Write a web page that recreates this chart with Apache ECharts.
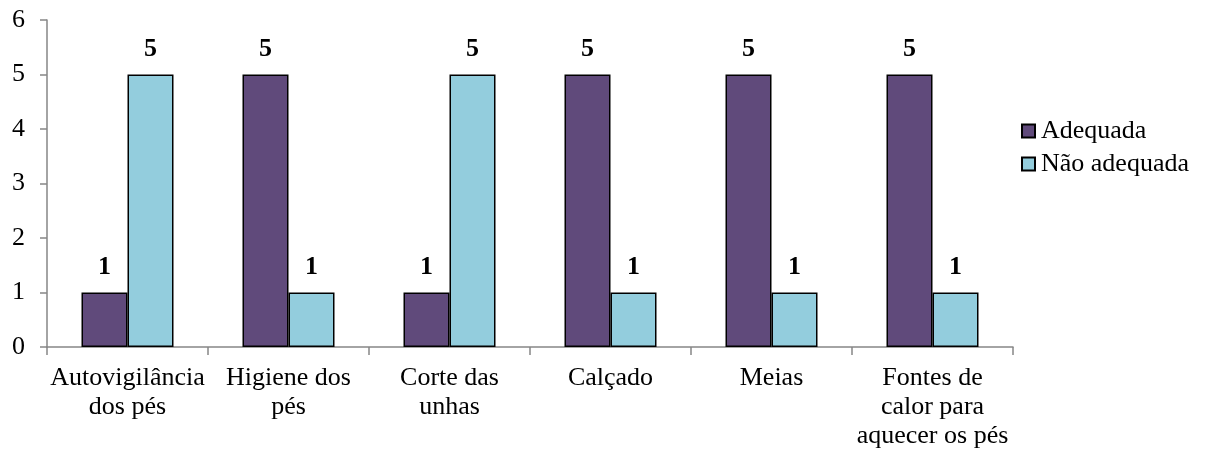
<!DOCTYPE html>
<html>
<head>
<meta charset="utf-8">
<script src="https://cdn.jsdelivr.net/npm/echarts@6/dist/echarts.min.js"></script>
<style>
  html, body { margin: 0; padding: 0; background: #fff; }
  #main { width: 1205px; height: 455px; }
</style>
</head>
<body>
<div id="main"></div>
<script>
// categories (line breaks as in the picture)
var categories = [
  'Autovigilância\ndos pés',
  'Higiene dos\npés',
  'Corte das\nunhas',
  'Calçado',
  'Meias',
  'Fontes de\ncalor para\naquecer os pés'
]
var adequada = [1, 5, 1, 5, 5, 5]
var naoAdequada = [5, 1, 5, 1, 1, 1]
var seriesNames = ['Adequada', 'Não adequada']

var font = '"Liberation Serif", "Times New Roman", serif'
var myChart = echarts.init(document.getElementById('main'))

function barLabel () {
  return {
    show: true,
    position: 'top',
    distance: 12,
    fontFamily: font,
    fontSize: 26,
    fontWeight: 'bold',
    color: '#000'
  }
}

myChart.setOption({
  animation: false,
  textStyle: { fontFamily: font },
  legend: {
    orient: 'vertical',
    left: 1016,
    top: 113,
    itemWidth: 13,
    itemHeight: 13,
    itemGap: 7,
    icon: 'rect',
    textStyle: { fontFamily: font, fontSize: 26, color: '#000', padding: [0, 0, 0, 1] },
    data: seriesNames
  },
  grid: { left: 47, right: 192, top: 20, bottom: 108, containLabel: false },
  xAxis: {
    type: 'category',
    data: categories,
    axisLine: { lineStyle: { color: '#868686', width: 1.5 } },
    axisTick: { show: true, length: 8, inside: false, lineStyle: { color: '#868686', width: 1.5 } },
    axisLabel: { fontFamily: font, fontSize: 26, color: '#000', lineHeight: 29, margin: 17, interval: 0 }
  },
  yAxis: {
    type: 'value',
    min: 0,
    max: 6,
    interval: 1,
    splitLine: { show: false },
    axisLine: { show: true, lineStyle: { color: '#868686', width: 1.5 } },
    axisTick: { show: true, length: 7, lineStyle: { color: '#868686', width: 1.5 } },
    axisLabel: { fontFamily: font, fontSize: 26, color: '#000', margin: 22 }
  },
  series: [
    {
      name: seriesNames[0],
      type: 'bar',
      data: adequada,
      barWidth: 46,
      barGap: '0%',
      itemStyle: { color: '#604a7b', borderColor: '#000', borderWidth: 1.5 },
      label: barLabel()
    },
    {
      name: seriesNames[1],
      type: 'bar',
      data: naoAdequada,
      barWidth: 46,
      barGap: '0%',
      itemStyle: { color: '#93cddd', borderColor: '#000', borderWidth: 1.5 },
      label: barLabel()
    }
  ]
})
</script>
</body>
</html>
